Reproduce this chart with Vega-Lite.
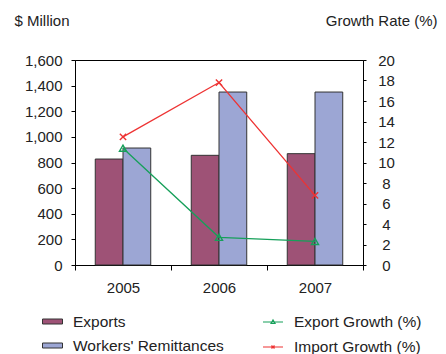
{
  "$schema": "https://vega.github.io/schema/vega-lite/v6.json",
  "width": 288,
  "height": 205,
  "autosize": {"type": "none"},
  "padding": {"left": 75, "top": 60, "right": 83, "bottom": 89},
  "background": "#ffffff",
  "config": {
    "font": "Liberation Sans",
    "view": {"stroke": "#000000", "strokeWidth": 1},
    "axis": {
      "domainColor": "#000000",
      "tickColor": "#000000",
      "labelColor": "#222222",
      "labelFontSize": 15,
      "titleFontSize": 15,
      "titleFontWeight": "normal",
      "titleColor": "#222222",
      "grid": false
    },
    "legend": {
      "labelFontSize": 15.5,
      "labelColor": "#222222",
      "padding": 0,
      "offset": 0
    }
  },
  "datasets": {
    "bars": [
      {"year": "2005", "series": "Exports", "value": 827},
      {"year": "2005", "series": "Workers' Remittances", "value": 913},
      {"year": "2006", "series": "Exports", "value": 856},
      {"year": "2006", "series": "Workers' Remittances", "value": 1350},
      {"year": "2007", "series": "Exports", "value": 869},
      {"year": "2007", "series": "Workers' Remittances", "value": 1350}
    ],
    "lines": [
      {"year": "2005", "series": "Export Growth (%)", "rate": 11.4},
      {"year": "2006", "series": "Export Growth (%)", "rate": 2.7},
      {"year": "2007", "series": "Export Growth (%)", "rate": 2.3},
      {"year": "2005", "series": "Import Growth (%)", "rate": 12.5},
      {"year": "2006", "series": "Import Growth (%)", "rate": 17.8},
      {"year": "2007", "series": "Import Growth (%)", "rate": 6.8}
    ]
  },
  "encoding": {
    "x": {
      "field": "year",
      "type": "ordinal",
      "scale": {"paddingInner": 0, "paddingOuter": 0},
      "axis": {"title": null, "labelAngle": 0, "tickBand": "extent", "tickSize": 5, "labelPadding": 10}
    }
  },
  "layer": [
    {
      "data": {"name": "bars"},
      "mark": {"type": "bar", "stroke": "#333333", "strokeWidth": 1},
      "encoding": {
        "xOffset": {
          "field": "series",
          "type": "nominal",
          "sort": ["Exports", "Workers' Remittances"],
          "scale": {"paddingInner": 0, "paddingOuter": 0.73}
        },
        "y": {
          "field": "value",
          "type": "quantitative",
          "scale": {"domain": [0, 1600], "nice": false},
          "axis": {
            "values": [0, 200, 400, 600, 800, 1000, 1200, 1400, 1600],
            "format": ",d",
            "tickSize": 4,
            "labelPadding": 9,
            "title": "$ Million",
            "titleAngle": 0,
            "titleAlign": "left",
            "titleBaseline": "middle",
            "titleX": -61,
            "titleY": -40
          }
        },
        "fill": {
          "field": "series",
          "type": "nominal",
          "scale": {"domain": ["Exports", "Workers' Remittances"], "range": ["#9E5276", "#9CA6D4"]},
          "legend": {
            "title": null,
            "orient": "none",
            "legendX": -33,
            "legendY": 251,
            "symbolType": "M-1,-0.25H1V0.25H-1Z",
            "symbolSize": 400,
            "symbolStrokeColor": "#333333",
            "symbolStrokeWidth": 1,
            "labelOffset": 10,
            "rowPadding": 5
          }
        }
      }
    },
    {
      "data": {"name": "lines"},
      "encoding": {
        "y": {
          "field": "rate",
          "type": "quantitative",
          "scale": {"domain": [0, 20], "nice": false},
          "axis": {
            "orient": "right",
            "values": [0, 2, 4, 6, 8, 10, 12, 14, 16, 18, 20],
            "tickSize": 3,
            "labelPadding": 20,
            "labelAlign": "center",
            "title": "Growth Rate (%)",
            "titleAngle": 0,
            "titleAlign": "right",
            "titleBaseline": "middle",
            "titleX": 74,
            "titleY": -40
          }
        },
        "stroke": {
          "field": "series",
          "type": "nominal",
          "scale": {"domain": ["Export Growth (%)", "Import Growth (%)"], "range": ["#16A05A", "#EE3333"]},
          "legend": {
            "title": null,
            "orient": "none",
            "legendX": 187,
            "legendY": 251,
            "symbolType": "M-1,0H1",
            "symbolSize": 400,
            "symbolStrokeWidth": 1.2,
            "labelOffset": 10,
            "rowPadding": 5,
            "encode": {
              "symbols": {
                "update": {
                  "shape": {"signal": "datum.value === 'Export Growth (%)' ? 'M-1,0H1M-0.2,0.15L0,-0.2L0.2,0.15Z' : 'M-1,0H1M-0.15,-0.15L0.15,0.15M-0.15,0.15L0.15,-0.15'"}
                }
              }
            }
          }
        }
      },
      "layer": [
        {"mark": {"type": "line", "strokeWidth": 1.3}},
        {
          "transform": [{"filter": "datum.series === 'Export Growth (%)'"}],
          "mark": {"type": "point", "shape": "triangle-up", "filled": false, "strokeWidth": 1.4, "size": 50, "opacity": 1}
        },
        {
          "transform": [{"filter": "datum.series === 'Import Growth (%)'"}],
          "mark": {"type": "point", "shape": "M-1,-1L1,1M-1,1L1,-1", "filled": false, "strokeWidth": 1.4, "size": 40, "opacity": 1}
        }
      ]
    }
  ],
  "resolve": {"scale": {"y": "independent"}}
}
